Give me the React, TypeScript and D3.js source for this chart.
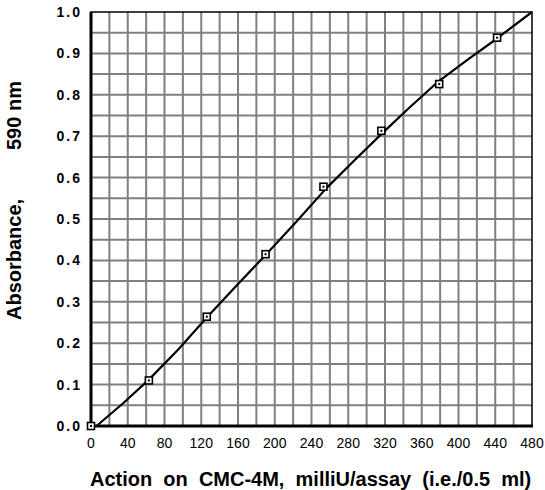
import { useEffect, useRef } from 'react';
import * as d3 from 'd3';

// measured standards (activity, absorbance)
const activity = [0, 63, 126, 190, 253, 316, 379, 442];
const absorbance = [0.0, 0.11, 0.264, 0.415, 0.578, 0.713, 0.826, 0.938];

// hand-drawn standard curve
const curveX = [6, 35, 63, 95, 126, 158, 190, 222, 256, 286, 316, 347, 378, 410, 442, 480];
const curveY = [0.0, 0.055, 0.112, 0.185, 0.262, 0.338, 0.413, 0.49, 0.574, 0.64, 0.705, 0.77, 0.832, 0.885, 0.936, 1.0];

const xTicks = [0, 40, 80, 120, 160, 200, 240, 280, 320, 360, 400, 440, 480];
const yTicks = [0, 0.1, 0.2, 0.3, 0.4, 0.5, 0.6, 0.7, 0.8, 0.9, 1.0];

const xTitle = 'Action  on  CMC-4M,  milliU/assay  (i.e./0.5  ml)';
const yTitleA = 'Absorbance,';
const yTitleB = '590 nm';

export default function App() {
  const ref = useRef<SVGSVGElement>(null);

  useEffect(() => {
    if (!ref.current) return;
    const W = 545, H = 490;
    const left = 91, right = 532, top = 12, bottom = 426;
    const font = 'Liberation Sans, Arial, sans-serif';

    const svg = d3.select(ref.current);
    svg.selectAll('*').remove();
    svg.attr('width', W).attr('height', H);
    svg.append('rect').attr('width', W).attr('height', H).attr('fill', '#fff');

    const x = d3.scaleLinear().domain([0, 480]).range([left, right]);
    const y = d3.scaleLinear().domain([0, 1]).range([bottom, top]);

    // grid every 20 units / 0.05
    const g = svg.append('g');
    g.selectAll('line.gx')
      .data(d3.range(20, 480, 20))
      .join('line')
      .attr('x1', d => x(d)).attr('x2', d => x(d))
      .attr('y1', top).attr('y2', bottom)
      .attr('stroke', '#808080').attr('stroke-width', 2);
    g.selectAll('line.gy')
      .data(d3.range(1, 20).map(i => i * 0.05))
      .join('line')
      .attr('y1', d => y(d)).attr('y2', d => y(d))
      .attr('x1', left).attr('x2', right)
      .attr('stroke', '#808080').attr('stroke-width', 2);

    // frame
    svg.append('rect')
      .attr('x', left).attr('y', top)
      .attr('width', right - left).attr('height', bottom - top)
      .attr('fill', 'none').attr('stroke', '#000').attr('stroke-width', 1.5);
    svg.append('line').attr('x1', left).attr('x2', left).attr('y1', top).attr('y2', bottom + 1.5)
      .attr('stroke', '#000').attr('stroke-width', 3);
    svg.append('line').attr('x1', left - 1.5).attr('x2', right + 1).attr('y1', bottom).attr('y2', bottom)
      .attr('stroke', '#000').attr('stroke-width', 3);

    // tick labels
    svg.append('g')
      .selectAll('text')
      .data(xTicks)
      .join('text')
      .attr('x', d => x(d)).attr('y', 448)
      .attr('text-anchor', 'middle')
      .attr('font-family', font).attr('font-size', 14)
      .text(d => d);
    svg.append('g')
      .selectAll('text')
      .data(yTicks)
      .join('text')
      .attr('x', 82).attr('y', d => y(d) + 5)
      .attr('text-anchor', 'end')
      .attr('font-family', font).attr('font-size', 14).attr('font-weight', 'bold')
      .attr('letter-spacing', 2)
      .text(d => d3.format('.1f')(d));

    // curve
    const lineGen = d3.line<number>().x((d) => x(d)).y((_, i) => y(curveY[i]));
    svg.append('path')
      .attr('d', lineGen(curveX))
      .attr('fill', 'none').attr('stroke', '#000').attr('stroke-width', 2.2)
      .attr('stroke-linejoin', 'round');

    // markers
    const pts = svg.append('g').selectAll('g')
      .data(activity.map((a, i) => [a, absorbance[i]] as [number, number]))
      .join('g')
      .attr('transform', d => `translate(${x(d[0])},${y(d[1])})`);
    pts.append('rect')
      .attr('x', -3.5).attr('y', -3.5).attr('width', 7).attr('height', 7)
      .attr('fill', '#fff').attr('stroke', '#000').attr('stroke-width', 1.6);
    pts.append('rect')
      .attr('x', -1).attr('y', -1).attr('width', 2).attr('height', 2)
      .attr('fill', '#000');

    // titles
    svg.append('text')
      .attr('x', 90).attr('y', 486)
      .attr('font-family', font).attr('font-size', 20).attr('font-weight', 'bold')
      .style('white-space', 'pre')
      .text(xTitle);
    svg.append('text')
      .attr('transform', 'translate(21,320) rotate(-90)')
      .attr('font-family', font).attr('font-size', 20).attr('font-weight', 'bold')
      .text(yTitleA);
    svg.append('text')
      .attr('transform', 'translate(21,150) rotate(-90)')
      .attr('font-family', font).attr('font-size', 20).attr('font-weight', 'bold')
      .text(yTitleB);
  }, []);

  return <svg ref={ref} style={{ position: 'absolute', left: 0, top: 0, display: 'block' }} />;
}
